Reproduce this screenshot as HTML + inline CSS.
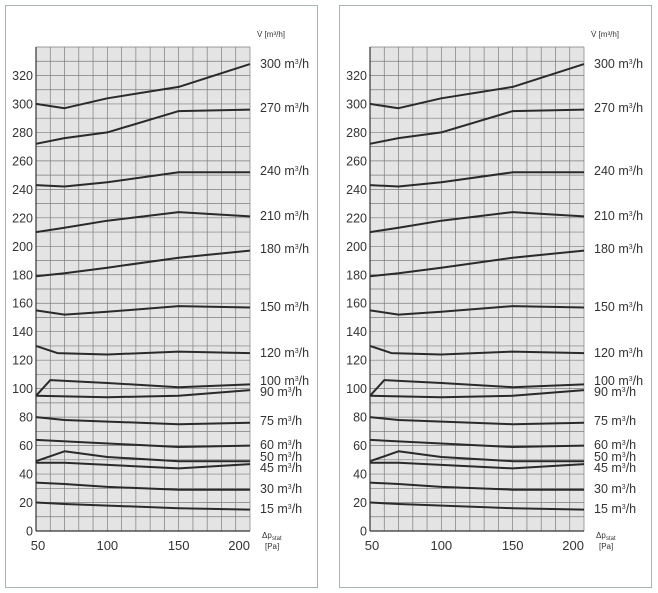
<!DOCTYPE html>
<html><head><meta charset="utf-8"><style>body{margin:0;background:#fff}svg{display:block}</style></head>
<body>
<svg width="658" height="593" viewBox="0 0 658 593" xmlns="http://www.w3.org/2000/svg" font-family="Liberation Sans, sans-serif">
<g id="P1"></g>
<g id="P2" transform="translate(334,0)"></g>
<script>
<![CDATA[
const NS="http://www.w3.org/2000/svg";
function X(p){return 36+(p-50)*214/150}
function Y(v){return 531-v*1.4235}
function el(t,a,par,txt){const e=document.createElementNS(NS,t);for(const k in a)e.setAttribute(k,a[k]);if(txt!==undefined)e.textContent=txt;par.appendChild(e);return e}
const data=[
[[50,300],[70,297],[100,304],[150,312],[200,328]],
[[50,272],[70,276],[100,280],[150,295],[200,296]],
[[50,243],[70,242],[100,245],[150,252],[200,252]],
[[50,210],[70,213],[100,218],[150,224],[200,221]],
[[50,179],[70,181],[100,185],[150,192],[200,197]],
[[50,155],[70,152],[100,154],[150,158],[200,157]],
[[50,130],[65,125],[100,124],[150,126],[200,125]],
[[50,95],[60,106],[100,104],[150,101],[200,103]],
[[50,95],[100,94],[150,95],[200,99]],
[[50,80],[70,78],[150,75],[200,76]],
[[50,64],[150,59],[200,60]],
[[50,49],[70,56],[100,52],[150,49],[200,49]],
[[50,48],[70,48],[150,44],[200,47]],
[[50,34],[70,33],[100,31],[150,29],[200,29]],
[[50,20],[70,19],[150,16],[200,15]]];
const labs=[["300",64],["270",108],["240",171],["210",216],["180",249],["150",307],["120",353],["100",381],["90",392],["75",421],["60",445],["50",457],["45",468],["30",489],["15",509]];
for(const id of ["P1","P2"]){
 const g=document.getElementById(id);
 el("rect",{x:5.5,y:5.5,width:312,height:582,fill:"#fff",stroke:"#a9b2b5"},g);
 el("rect",{x:36,y:47,width:214,height:484,fill:"#e4e4e4"},g);
 const gr=el("g",{stroke:"#7c7c7c","stroke-width":0.7},g);
 for(let i=0;i<=15;i++){const x=36+i*214/15;el("line",{x1:x,y1:47,x2:x,y2:531},gr)}
 for(let v=0;v<=340;v+=10){const y=Y(v);el("line",{x1:36,y1:y,x2:250,y2:y},gr)}
 el("line",{x1:36,y1:47,x2:36,y2:531,stroke:"#333","stroke-width":1.2},g);
 el("line",{x1:36,y1:531,x2:250,y2:531,stroke:"#333","stroke-width":1.2},g);
 const cv=el("g",{fill:"none",stroke:"#2a2a2a","stroke-width":2,"stroke-linejoin":"round"},g);
 for(const d of data)el("polyline",{points:d.map(p=>X(p[0]).toFixed(1)+","+Y(p[1]).toFixed(1)).join(" ")},cv);
 const t=el("g",{"font-size":12.5,fill:"#333"},g);
 for(let v=0;v<=320;v+=20)el("text",{x:33,y:Y(v)+4.5,"text-anchor":"end"},t,String(v));
 el("text",{x:38,y:550,"text-anchor":"middle","font-size":13},t,"50");
 el("text",{x:X(100),y:550,"text-anchor":"middle","font-size":13},t,"100");
 el("text",{x:X(150),y:550,"text-anchor":"middle","font-size":13},t,"150");
 el("text",{x:250,y:550,"text-anchor":"end","font-size":13},t,"200");
 for(const l of labs){const e=el("text",{x:260,y:l[1]+4},t,l[0]+" m");el("tspan",{"font-size":7,dy:-4},e,"3");el("tspan",{dy:4},e,"/h")}
 el("text",{x:257,y:37,"font-size":8},t,"V\u0307 [m\u00b3/h]");
 el("text",{x:262,y:538,"font-size":8},t,"\u0394p");
 el("text",{x:272,y:540,"font-size":6},t,"stat");
 el("text",{x:265,y:549,"font-size":8},t,"[Pa]");
}
]]>
</script>
</svg>
</body></html>
